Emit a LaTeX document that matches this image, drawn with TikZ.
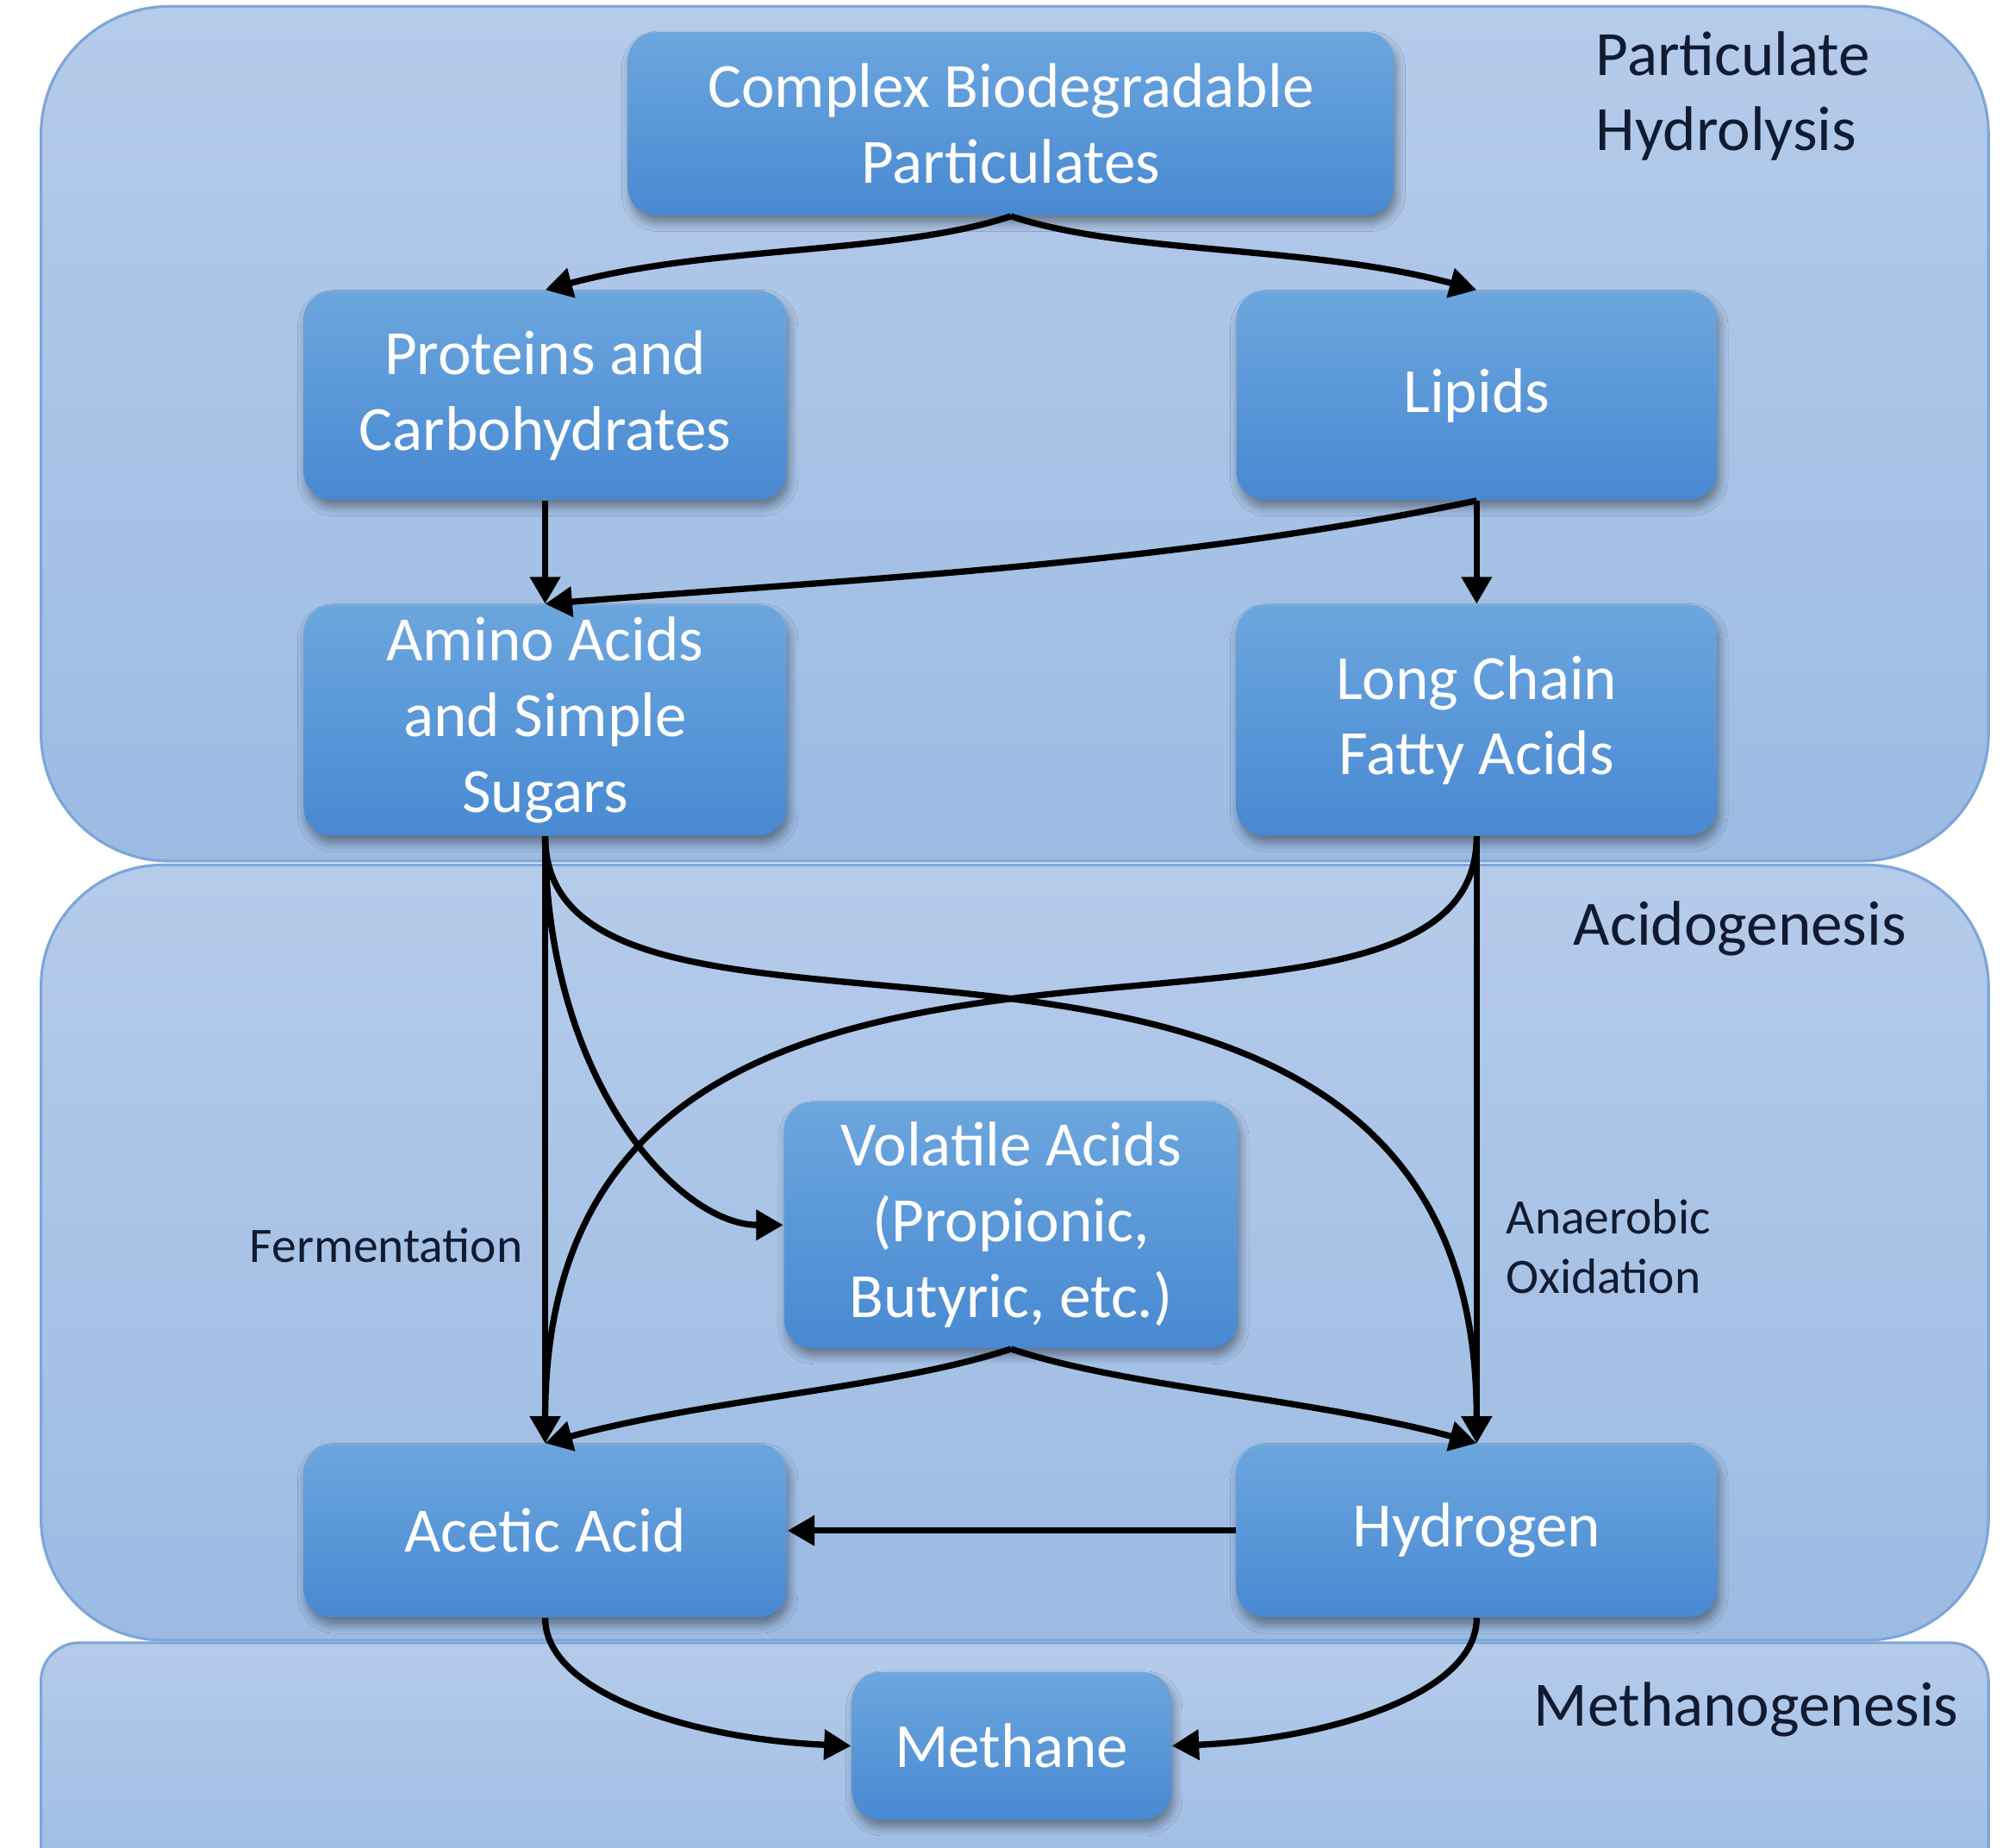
\documentclass[tikz,border=0pt]{standalone}
\usepackage{fontspec}
\setmainfont{Carlito}
\usepackage{xcolor}
\usetikzlibrary{arrows.meta,shadows.blur}
\definecolor{panelTop}{HTML}{B5CBEA}
\definecolor{panelBot}{HTML}{9CBBE3}
\definecolor{panelLine}{HTML}{7DA5D8}
\definecolor{boxTop}{HTML}{6CA6DE}
\definecolor{boxBot}{HTML}{4889D2}
\definecolor{ink}{HTML}{101A30}

\begin{document}
\begin{tikzpicture}[
  phase/.style={top color=panelTop, bottom color=panelBot, draw=panelLine, line width=0.6pt},
  box/.style={rounded corners=0.22cm, top color=boxTop, bottom color=boxBot, text=white, align=center,
    font=\fontsize{14}{16.8}\selectfont, inner sep=2pt,
    blur shadow={shadow xshift=0.02cm, shadow yshift=-0.06cm, shadow opacity=40, shadow blur steps=6}},
  lbl/.style={text=ink, font=\fontsize{14}{16.5}\selectfont, inner sep=0pt},
  small/.style={text=ink, font=\fontsize{11}{13.3}\selectfont, inner sep=0pt},
  flow/.style={line width=1.4pt, -{Triangle[length=6pt,width=6.5pt]}}
]
\useasboundingbox (0,0) rectangle (15.68,14.42);
\fill[white] (0,0) rectangle (15.68,14.42);

\draw[phase, rounded corners=1cm] (0.32,7.70) rectangle (15.52,14.37);
\draw[phase, rounded corners=0.95cm] (0.32,1.62) rectangle (15.52,7.67);
\draw[phase, rounded corners=0.3cm] (0.32,-0.4) rectangle (15.52,1.60);

\node[lbl, align=left, anchor=west] (ph) at (12.45,13.67) {Particulate\\Hydrolysis};
\node[lbl] (ag) at (13.58,7.17) {Acidogenesis};
\node[lbl] (mg) at (13.63,1.08) {Methanogenesis};
\node[small] (fer) at (3.015,4.70) {Fermentation};
\node[small, align=left, anchor=west] (ano) at (11.75,4.69) {Anaerobic\\Oxidation};

\node[box, minimum width=5.98cm, minimum height=1.43cm] (cbp) at (7.89,13.455) {Complex Biodegradable\\Particulates};
\node[box, minimum width=3.77cm, minimum height=1.63cm] (prot) at (4.255,11.335) {Proteins and\\Carbohydrates};
\node[box, minimum width=3.75cm, minimum height=1.63cm] (lip) at (11.525,11.335) {Lipids};
\node[box, minimum width=3.77cm, minimum height=1.80cm] (aa) at (4.255,8.80) {Amino Acids\\and Simple\\Sugars};
\node[box, minimum width=3.75cm, minimum height=1.80cm] (lcfa) at (11.525,8.80) {Long Chain\\Fatty Acids};
\node[box, minimum width=3.54cm, minimum height=1.92cm] (va) at (7.89,4.86) {Volatile Acids\\(Propionic,\\Butyric, etc.)};
\node[box, minimum width=3.77cm, minimum height=1.35cm] (ac) at (4.255,2.475) {Acetic Acid};
\node[box, minimum width=3.75cm, minimum height=1.35cm] (hy) at (11.525,2.475) {Hydrogen};
\node[box, minimum width=2.49cm, minimum height=1.15cm] (ch4) at (7.895,0.795) {Methane};

\draw[flow] (cbp.south) .. controls +(-0.9,-0.3) and +(1.3,0.35) .. (prot.north);
\draw[flow] (cbp.south) .. controls +(0.9,-0.3) and +(-1.3,0.35) .. (lip.north);
\draw[flow] (prot.south) -- (aa.north);
\draw[flow] (lip.south) .. controls +(-2.4,-0.5) and +(2.5,0.2) .. (aa.north);
\draw[flow] (lip.south) -- (lcfa.north);
\draw[flow] (aa.south) -- (ac.north);
\draw[flow] (aa.south) .. controls +(0,-1.9) and +(-0.82,0) .. (va.west);
\draw[flow] (aa.south) .. controls +(0,-2.28) and +(0,5.15) .. (hy.north);
\draw[flow] (lcfa.south) .. controls +(0,-2.28) and +(0,5.15) .. (ac.north);
\draw[flow] (lcfa.south) -- (hy.north);
\draw[flow] (va.south) .. controls +(-0.9,-0.3) and +(1.3,0.35) .. (ac.north);
\draw[flow] (va.south) .. controls +(0.9,-0.3) and +(-1.3,0.35) .. (hy.north);
\draw[flow] (hy.west) -- (ac.east);
\draw[flow] (ac.south) .. controls +(0,-0.6) and +(-1.2,0.05) .. (ch4.west);
\draw[flow] (hy.south) .. controls +(0,-0.6) and +(1.2,0.05) .. (ch4.east);
\end{tikzpicture}
\end{document}
